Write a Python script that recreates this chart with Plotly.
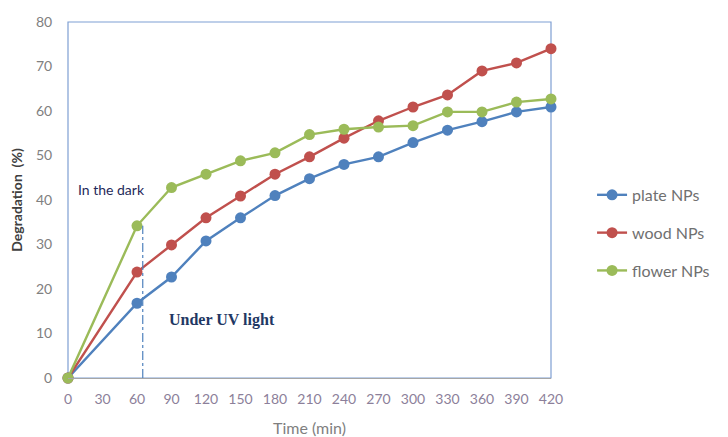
import plotly.graph_objects as go

time_min = [0, 60, 90, 120, 150, 180, 210, 240, 270, 300, 330, 360, 390, 420]
plate_nps = [0, 16.8, 22.7, 30.8, 36.0, 41.0, 44.8, 48.0, 49.7, 52.9, 55.7, 57.6, 59.8, 60.9]
wood_nps = [0, 23.8, 29.9, 36.0, 40.9, 45.8, 49.7, 53.9, 57.8, 60.9, 63.6, 69.0, 70.8, 74.0]
flower_nps = [0, 34.2, 42.8, 45.8, 48.8, 50.6, 54.7, 55.9, 56.4, 56.7, 59.8, 59.8, 62.0, 62.7]
series_names = ["plate NPs", "wood NPs", "flower NPs"]
series_colors = ["#4F81BD", "#C0504D", "#9BBB59"]
x_ticks = list(range(0, 421, 30))
y_ticks = list(range(0, 81, 10))
dark_end_time = 65
dark_end_top = 34.2

fig = go.Figure()
for i, (name, vals, col) in enumerate(zip(series_names, [plate_nps, wood_nps, flower_nps], series_colors)):
    fig.add_trace(go.Scatter(
        x=time_min, y=vals, name=name, mode="lines+markers",
        line=dict(color=col, width=2.4),
        marker=dict(color=col, size=11),
        cliponaxis=False, legendgroup=f"g{i}",
    ))

# dash-dot separator line (dark / UV light)
fig.add_trace(go.Scatter(
    x=[dark_end_time, dark_end_time], y=[0, dark_end_top], mode="lines",
    line=dict(color="#4F81BD", width=1.2, dash="dashdot"),
    showlegend=False, hoverinfo="skip",
))

fig.add_shape(type="rect", xref="paper", yref="paper", x0=0, y0=0, x1=1, y1=1,
              line=dict(color="#7F9FD3", width=1.2), layer="below")

fig.add_annotation(x=7, y=42.3, xref="x", yref="y", text="In the dark", showarrow=False,
                   xanchor="left", font=dict(family="Lato, Open Sans, sans-serif", size=14, color="#1F2A5A"))
fig.add_annotation(x=86, y=13, xref="x", yref="y", text="<b>Under UV light</b>", showarrow=False,
                   xanchor="left", font=dict(family="Liberation Serif, Times New Roman, serif", size=16, color="#1F3864"))

fig.update_layout(
    width=728, height=437,
    margin=dict(l=68, r=177, t=22, b=59),
    paper_bgcolor="white", plot_bgcolor="white",
    font=dict(family="Lato, Open Sans, sans-serif", size=13, color="#808080"),
    legend=dict(x=1.085, xanchor="left", y=0.562, yanchor="top",
                font=dict(size=16, color="#707070"), tracegroupgap=14,
                itemwidth=30, bgcolor="rgba(0,0,0,0)", borderwidth=0),
    xaxis=dict(range=[0, 420], tickvals=x_ticks, showgrid=False, zeroline=False,
               showline=True, linecolor="#A6A6A6", linewidth=1, automargin=False,
               ticks="outside", ticklen=8, tickcolor="rgba(0,0,0,0)",
               tickfont=dict(color="#8C7F9A", size=14),
               title=dict(text="Time (min)", font=dict(size=16, color="#7F7F7F"), standoff=23)),
    yaxis=dict(range=[0, 80], tickvals=y_ticks, showgrid=False, zeroline=False, automargin=False,
               showline=False, ticks="outside", ticklen=12, tickcolor="rgba(0,0,0,0)",
               tickfont=dict(color="#808080", size=14),
               title=dict(text="<b>Degradation  (%)</b>", font=dict(size=14, color="#404040"), standoff=10)),
)

fig.write_html("out.html", config={"displayModeBar": False},
               post_script="document.body.style.margin='0';")
